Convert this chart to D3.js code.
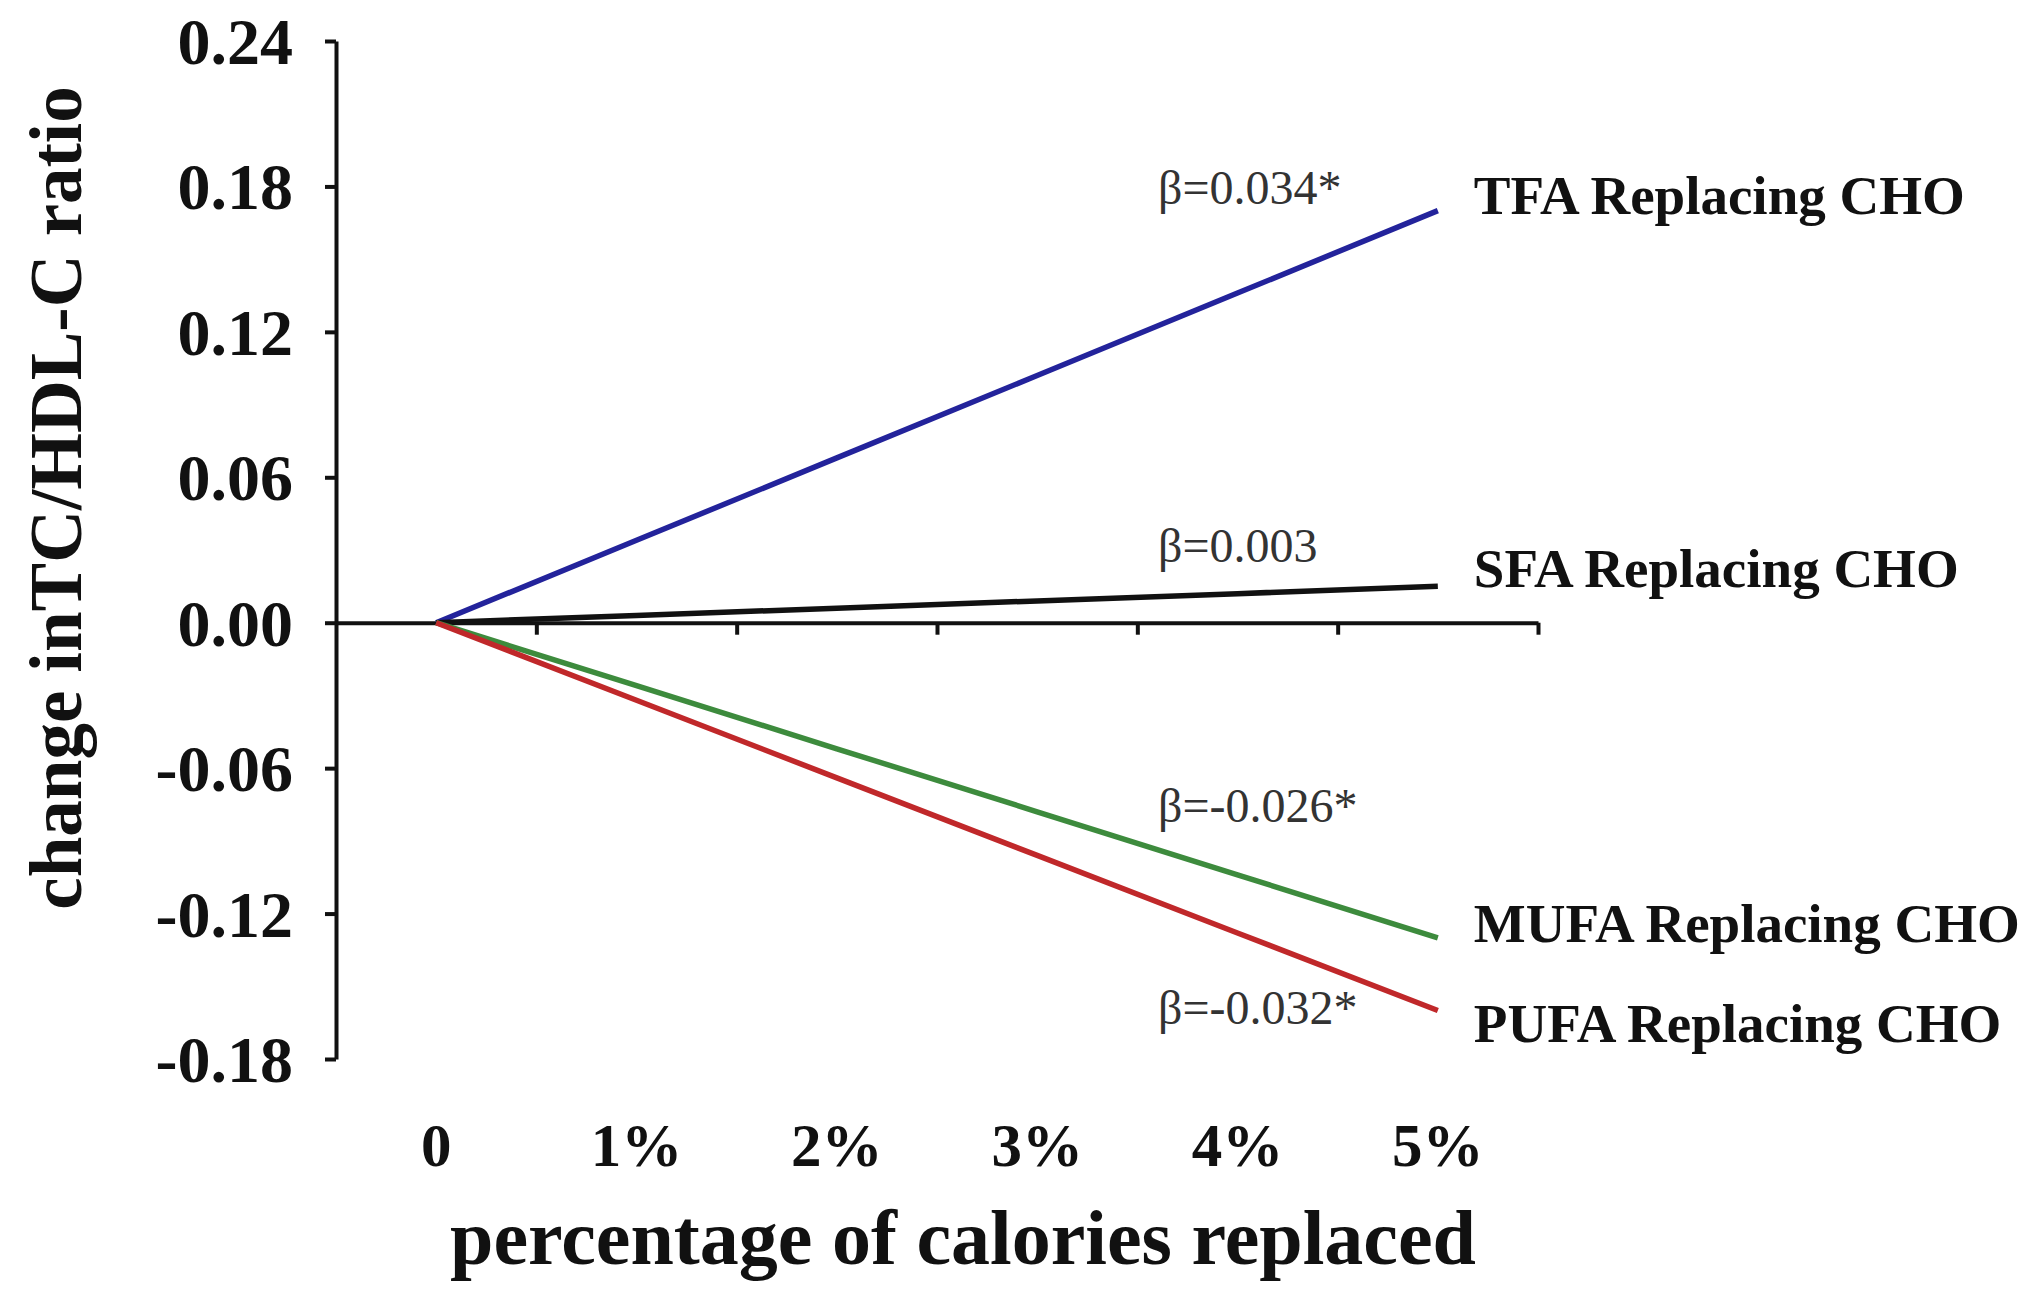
<!DOCTYPE html>
<html>
<head>
<meta charset="utf-8">
<script src="https://cdn.jsdelivr.net/npm/d3@7"></script>
<style>
  html, body { margin: 0; padding: 0; background: #fff; }
  svg { display: block; }
  .axis path, .axis line { stroke: #111; stroke-width: 4px; }
  .axis text { font-family: "Liberation Serif", "Times New Roman", serif; font-weight: bold; fill: #111; }
</style>
</head>
<body>
<div id="chart"></div>
<script>
// categories on the x axis (percentage of calories replaced)
const categories = ["0", "1%", "2%", "3%", "4%", "5%"];
const yTicks = [-0.18, -0.12, -0.06, 0.00, 0.06, 0.12, 0.18, 0.24];

// series values
const tfaValues  = [0, 0.034, 0.068, 0.102, 0.136, 0.170];
const sfaValues  = [0, 0.003, 0.006, 0.009, 0.012, 0.015];
const mufaValues = [0, -0.026, -0.052, -0.078, -0.104, -0.130];
const pufaValues = [0, -0.032, -0.064, -0.096, -0.128, -0.160];

const seriesNames = ["TFA Replacing CHO", "SFA Replacing CHO", "MUFA Replacing CHO", "PUFA Replacing CHO"];
const betaLabels  = ["\u03b2=0.034*", "\u03b2=0.003", "\u03b2=-0.026*", "\u03b2=-0.032*"];

const series = [
    { name: seriesNames[0], beta: betaLabels[0], values: tfaValues,  color: "#23239b" },
    { name: seriesNames[1], beta: betaLabels[1], values: sfaValues,  color: "#111111" },
    { name: seriesNames[2], beta: betaLabels[2], values: mufaValues, color: "#3d8b3d" },
    { name: seriesNames[3], beta: betaLabels[3], values: pufaValues, color: "#c0282a" }
];

const width = 2040, height = 1302;
const plot = { left: 336, right: 1538, top: 41, bottom: 1059 };

const svg = d3.select("#chart")
    .append("svg")
    .attr("width", width)
    .attr("height", height);

// category scale for the line points, edge scale for the tick marks between categories
const x = d3.scaleBand()
    .domain(categories)
    .range([plot.left, plot.right])
    .padding(0);

const xEdge = d3.scaleLinear()
    .domain([0, categories.length])
    .range([plot.left, plot.right]);

const y = d3.scaleLinear()
    .domain([-0.18, 0.24])
    .range([plot.bottom, plot.top]);

// y axis
svg.append("g")
    .attr("class", "axis y-axis")
    .attr("transform", `translate(${plot.left},0)`)
    .call(d3.axisLeft(y)
        .tickValues(yTicks)
        .tickSize(11)
        .tickSizeOuter(0)
        .tickPadding(32)
        .tickFormat(d => d.toFixed(2)))
    .call(g => g.selectAll("text").style("font-size", "66px").attr("dy", "0.34em"));

// x axis drawn through zero, ticks between categories, no labels on it
svg.append("g")
    .attr("class", "axis x-axis")
    .attr("transform", `translate(0,${y(0)})`)
    .call(d3.axisBottom(xEdge)
        .tickValues(d3.range(1, categories.length + 1))
        .tickSize(12)
        .tickSizeOuter(0)
        .tickFormat(""));

// category labels far below the axis
svg.append("g")
    .selectAll("text")
    .data(categories)
    .enter()
    .append("text")
    .attr("x", d => x(d) + x.bandwidth() / 2)
    .attr("y", 1166)
    .attr("text-anchor", "middle")
    .style("font-family", "'Liberation Serif', 'Times New Roman', serif")
    .style("font-weight", "bold")
    .style("font-size", "61px")
    .style("fill", "#111")
    .text(d => d);

// lines
const line = d3.line()
    .x((d, i) => x(categories[i]) + x.bandwidth() / 2)
    .y(d => y(d));

svg.append("g")
    .selectAll("path")
    .data(series)
    .enter()
    .append("path")
    .attr("d", d => line(d.values))
    .attr("fill", "none")
    .attr("stroke", d => d.color)
    .attr("stroke-width", 5.5);

// series names at the line ends
const lastX = x(categories[categories.length - 1]) + x.bandwidth() / 2;
const nameOffsets = [3, 1, 4, 31];
svg.append("g")
    .selectAll("text")
    .data(series)
    .enter()
    .append("text")
    .attr("x", lastX + 36)
    .attr("y", (d, i) => y(d.values[d.values.length - 1]) + nameOffsets[i])
    .style("font-family", "'Liberation Serif', 'Times New Roman', serif")
    .style("font-weight", "bold")
    .style("font-size", "55px")
    .style("fill", "#111")
    .text(d => d.name);

// beta annotations
const betaY = [204, 562, 822, 1024];
svg.append("g")
    .selectAll("text")
    .data(series)
    .enter()
    .append("text")
    .attr("x", 1158)
    .attr("y", (d, i) => betaY[i])
    .style("font-family", "'Liberation Serif', 'Times New Roman', serif")
    .style("font-size", "48px")
    .style("fill", "#333")
    .text(d => d.beta);

// axis titles
svg.append("text")
    .attr("transform", `translate(81,498) rotate(-90)`)
    .attr("text-anchor", "middle")
    .style("font-family", "'Liberation Serif', 'Times New Roman', serif")
    .style("font-weight", "bold")
    .style("font-size", "73px")
    .style("fill", "#111")
    .text("change inTC/HDL-C ratio");

svg.append("text")
    .attr("x", 963)
    .attr("y", 1264)
    .attr("text-anchor", "middle")
    .style("font-family", "'Liberation Serif', 'Times New Roman', serif")
    .style("font-weight", "bold")
    .style("font-size", "78px")
    .style("fill", "#111")
    .text("percentage of calories replaced");
</script>
</body>
</html>
